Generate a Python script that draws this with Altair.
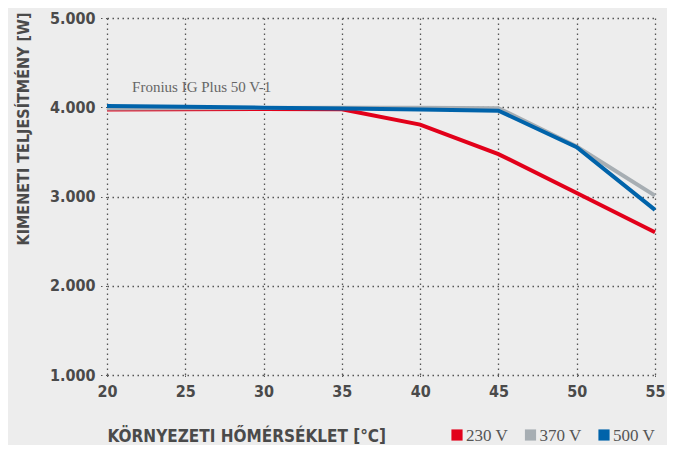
import altair as alt
import pandas as pd

temps = [20, 25, 30, 35, 40, 45, 50, 55]
series = ["230 V", "370 V", "500 V"]
v230 = [3975, 3978, 3980, 3978, 3805, 3475, 3040, 2600]
v370 = [3985, 3990, 3992, 3995, 3995, 3990, 3560, 3010]
v500 = [4015, 4005, 3995, 3985, 3975, 3962, 3552, 2850]
colors = ["#e2001a", "#a7aeb3", "#0063aa"]
x_ticks = [20, 25, 30, 35, 40, 45, 50, 55]
y_ticks = [1000, 2000, 3000, 4000, 5000]
label_text = ["Fronius IG Plus 50 V-1"]
label_x = [21.6]
label_y = [4170]

rows = []
for name, vals in zip(series, [v230, v370, v500]):
    for t, v in zip(temps, vals):
        rows.append({"t": t, "p": v, "s": name})
df = pd.DataFrame(rows)
leg = pd.DataFrame({"series": series})
lab = pd.DataFrame({"x": label_x, "y": label_y, "text": label_text})

FONT = "DejaVu Sans Condensed"
SERIF = "Liberation Serif"
TXT = "#4a4a4a"
GRID = "#555555"

xscale = alt.Scale(domain=[20, 55], nice=False, zero=False)
yscale = alt.Scale(domain=[1000, 5000], nice=False, zero=False)

xaxis = alt.Axis(values=x_ticks, title="KÖRNYEZETI HŐMÉRSÉKLET [°C]",
                 titleAnchor="start", titleAlign="left", titleX=0, titleY=66,
                 titleBaseline="alphabetic", titleFont=FONT, titleFontSize=17,
                 titleFontWeight="bold", titleColor=TXT,
                 labelFont=FONT, labelFontSize=16, labelFontWeight="bold",
                 labelColor=TXT, labelPadding=3, labelFlush=False,
                 grid=True, gridDash=[1.5, 3.5], gridColor=GRID, gridWidth=1.3,
                 ticks=True, tickSize=5, tickDash=[1.5, 3.5], tickColor=GRID,
                 domain=False)
yaxis = alt.Axis(values=y_ticks,
                 labelExpr="replace(format(datum.value, ',.0f'), ',', '.')",
                 title="KIMENETI TELJESÍTMÉNY [W]",
                 titleAnchor="end", titleAlign="right", titleAngle=-90,
                 titleX=-79, titleY=-6, titleBaseline="alphabetic",
                 titleFont=FONT, titleFontSize=16, titleFontWeight="bold",
                 titleColor=TXT,
                 labelFont=FONT, labelFontSize=16, labelFontWeight="bold",
                 labelColor=TXT, labelPadding=4,
                 grid=True, gridDash=[1.5, 3.5], gridColor=GRID, gridWidth=1.3,
                 ticks=True, tickSize=8, tickDash=[1.5, 3.5], tickColor=GRID,
                 domain=False)

cscale = alt.Scale(domain=series, range=colors)

lines = alt.Chart(df).mark_line(strokeWidth=4).encode(
    x=alt.X("t:Q", scale=xscale, axis=xaxis),
    y=alt.Y("p:Q", scale=yscale, axis=yaxis),
    stroke=alt.Stroke("s:N", scale=cscale, legend=None),
    detail="s:N",
)

text = alt.Chart(lab).mark_text(align="left", baseline="alphabetic", font=SERIF,
                                fontSize=15, color="#666666").encode(
    x=alt.X("x:Q", scale=xscale),
    y=alt.Y("y:Q", scale=yscale),
    text="text:N",
)

# legend drawn as marks, placed via a point scale
lscale = alt.Scale(type="point", domain=series, range=[350, 497], padding=0)
leg_sq = alt.Chart(leg).mark_square(size=125, opacity=1).encode(
    x=alt.X("series:N", scale=lscale, axis=None),
    y=alt.value(417),
    color=alt.Color("series:N", scale=cscale, legend=None),
)
leg_tx = alt.Chart(leg).mark_text(align="left", baseline="alphabetic", dx=9, dy=6,
                                  font=SERIF, fontSize=17, color="#555555").encode(
    x=alt.X("series:N", scale=lscale, axis=None),
    y=alt.value(417),
    text="series:N",
)

main = alt.layer(lines, text)
legend = alt.layer(leg_sq, leg_tx)

chart = alt.layer(main, legend).resolve_scale(x="independent").properties(
    width=548, height=357,
    autosize=alt.AutoSizeParams(type="none"),
    padding={"left": 99, "top": 10, "right": 12, "bottom": 70},
    background="#ededed",
).configure_view(stroke=None)

chart.save("out.html", embed_options={"renderer": "svg", "actions": False})
